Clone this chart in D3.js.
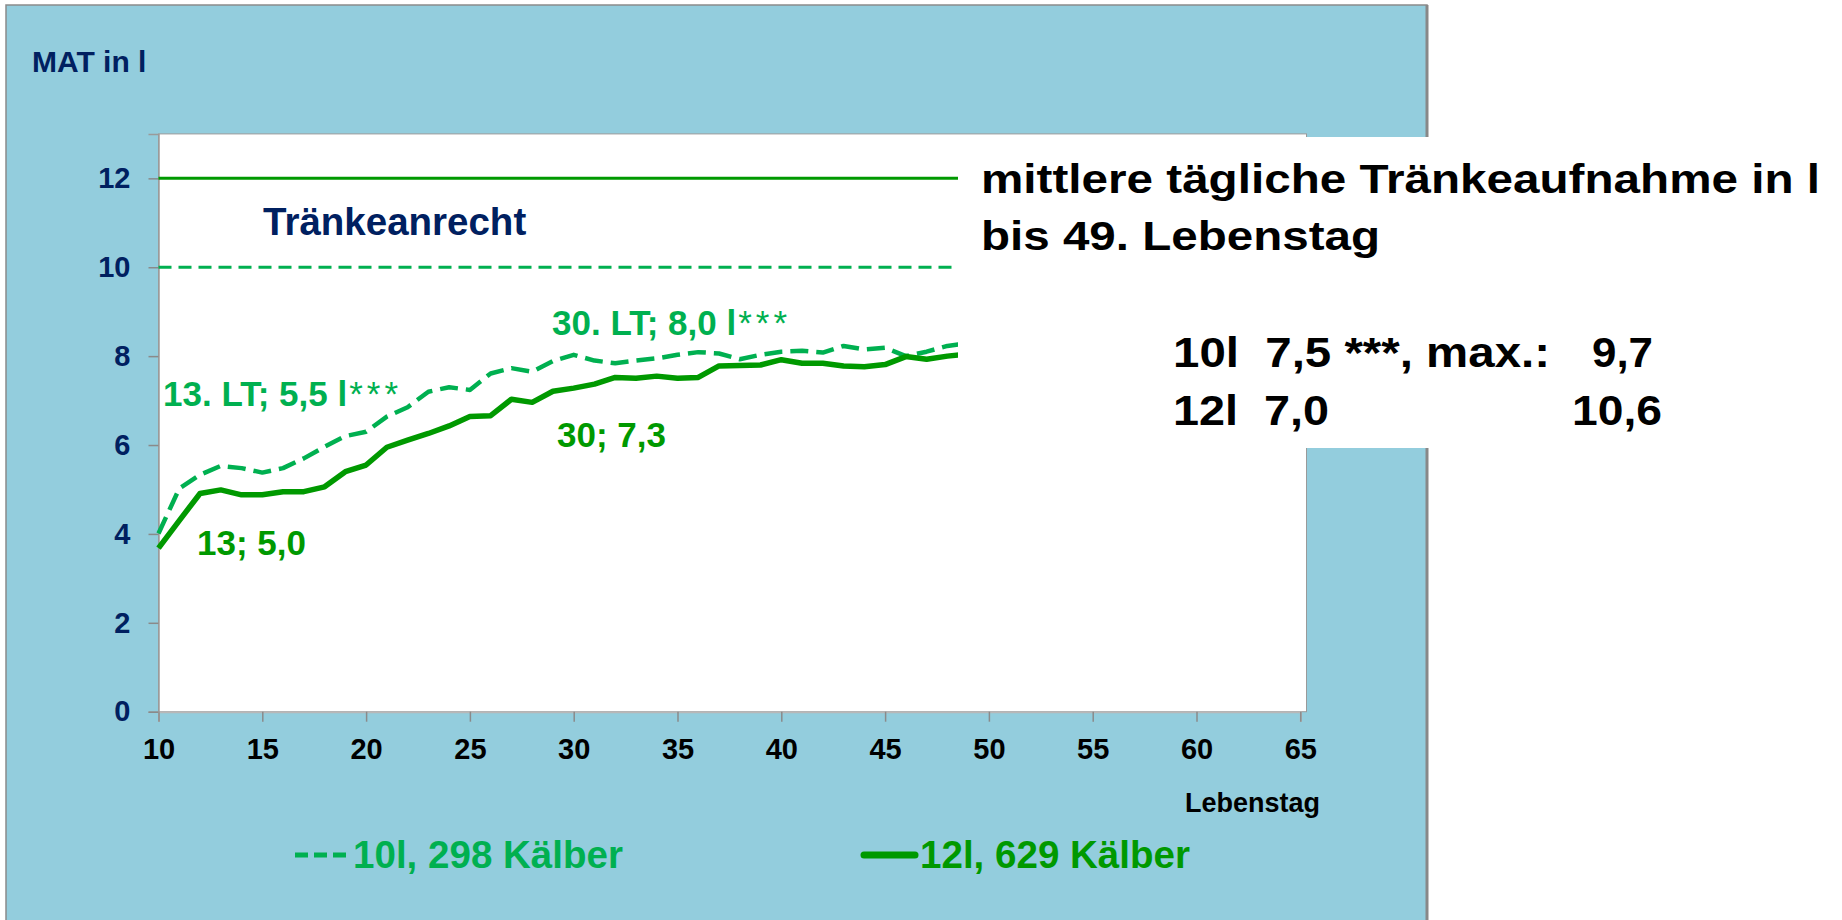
<!DOCTYPE html>
<html>
<head>
<meta charset="utf-8">
<script src="https://cdnjs.cloudflare.com/ajax/libs/d3/7.8.5/d3.min.js"></script>
<style>
	body { margin: 0; background: #ffffff; }
	svg { display: block; font-family: "Liberation Sans", Arial, sans-serif; }
	text { white-space: pre; }
</style>
</head>
<body>
<div id="chart"></div>
<script>
	var width = 1842, height = 920;

	// Lebenstag (x) and mittlere Tränkeaufnahme (y)
	var days = [10,11,12,13,14,15,16,17,18,19,20,21,22,23,24,25,26,27,28,29,
		30,31,32,33,34,35,36,37,38,39,40,41,42,43,44,45,46,47,48,49];
	var tenL = [4.01,5.02,5.33,5.53,5.48,5.38,5.48,5.70,5.96,6.20,6.30,6.64,6.85,7.20,7.30,7.24,7.61,7.73,7.65,7.89,
		8.03,7.90,7.84,7.90,7.95,8.03,8.09,8.06,7.93,8.03,8.10,8.12,8.08,8.23,8.15,8.19,8.00,8.10,8.23,8.29];
	var twelveL = [3.68,4.30,4.91,4.99,4.88,4.88,4.95,4.95,5.06,5.40,5.55,5.95,6.11,6.26,6.43,6.64,6.66,7.03,6.96,7.21,
		7.28,7.37,7.52,7.50,7.55,7.50,7.52,7.78,7.79,7.80,7.92,7.84,7.84,7.78,7.76,7.81,7.99,7.93,8.00,8.05];
	// Tränkeanrecht
	var allowance = [12, 10];
	var xTicks = [10,15,20,25,30,35,40,45,50,55,60,65];
	var yTicks = [0,2,4,6,8,10,12];

	var lightGreen = "#00b050", darkGreen = "#009900", navy = "#002060";

	var svg = d3.select("#chart").append("svg")
		.attr("width", width)
		.attr("height", height);

	var x = d3.scaleLinear().domain([10, 65]).range([158.5, 1300.3]);
	var y = d3.scaleLinear().domain([0, 13]).range([711.7, 133.9]);

	// blue panel
	svg.append("rect")
		.attr("x", 6).attr("y", 5)
		.attr("width", 1421).attr("height", 940)
		.attr("fill", "#93cddd")
		.attr("stroke", "#8a8a8a")
		.attr("stroke-width", 1.5);
	svg.append("line")
		.attr("x1", 1427).attr("x2", 1427)
		.attr("y1", 5).attr("y2", height)
		.attr("stroke", "#888").attr("stroke-width", 3);

	// plot area
	svg.append("rect")
		.attr("x", x(10)).attr("y", y(13))
		.attr("width", 1306.5 - x(10)).attr("height", y(0) - y(13))
		.attr("fill", "#ffffff")
		.attr("stroke", "#9a9a9a")
		.attr("stroke-width", 1);

	svg.append("text")
		.attr("x", 32).attr("y", 72)
		.attr("fill", navy)
		.attr("font-size", 30).attr("font-weight", "bold")
		.text("MAT in l");

	// axes
	var xAxis = svg.append("g")
		.attr("transform", "translate(0," + y(0) + ")")
		.call(d3.axisBottom(x).tickValues(xTicks).tickSize(10).tickPadding(17));
	xAxis.select(".domain").attr("stroke", "#b8b8b8").attr("stroke-width", 2);
	xAxis.selectAll(".tick line").attr("stroke", "#8a8a8a").attr("stroke-width", 1.5);
	xAxis.selectAll(".tick text")
		.attr("fill", "#000")
		.attr("font-size", 29).attr("font-weight", "bold")
		.attr("font-family", "Liberation Sans, Arial, sans-serif");

	var yAxis = svg.append("g")
		.attr("transform", "translate(" + x(10) + ",0)")
		.call(d3.axisLeft(y).tickValues(yTicks).tickSize(10).tickPadding(18));
	yAxis.select(".domain").attr("stroke", "#9a9a9a").attr("stroke-width", 1.5);
	yAxis.selectAll(".tick line").attr("stroke", "#8a8a8a").attr("stroke-width", 1.5);
	yAxis.selectAll(".tick text")
		.attr("fill", navy)
		.attr("font-size", 29).attr("font-weight", "bold")
		.attr("font-family", "Liberation Sans, Arial, sans-serif");

	// Tränkeanrecht lines
	svg.append("line")
		.attr("x1", x(10)).attr("x2", x(50))
		.attr("y1", y(allowance[0])).attr("y2", y(allowance[0]))
		.attr("stroke", darkGreen).attr("stroke-width", 3);
	svg.append("line")
		.attr("x1", x(10)).attr("x2", x(50))
		.attr("y1", y(allowance[1])).attr("y2", y(allowance[1]))
		.attr("stroke", lightGreen).attr("stroke-width", 3)
		.attr("stroke-dasharray", "13,7");

	svg.append("text")
		.attr("x", 263).attr("y", 235)
		.attr("fill", navy)
		.attr("font-size", 38.5).attr("font-weight", "bold")
		.text("Tränkeanrecht");

	// data lines
	var line = d3.line()
		.x(function(d){ return x(d[0]); })
		.y(function(d){ return y(d[1]); });

	svg.append("path")
		.datum(d3.zip(days, tenL))
		.attr("d", line)
		.attr("fill", "none")
		.attr("stroke", lightGreen)
		.attr("stroke-width", 4.5)
		.attr("stroke-dasharray", "18,8")
		.attr("stroke-linejoin", "round");

	svg.append("path")
		.datum(d3.zip(days, twelveL))
		.attr("d", line)
		.attr("fill", "none")
		.attr("stroke", darkGreen)
		.attr("stroke-width", 5.5)
		.attr("stroke-linejoin", "round");

	// annotations
	function note(tx, ty, color, main, stars) {
		var t = svg.append("text")
			.attr("x", tx).attr("y", ty)
			.attr("fill", color)
			.attr("font-size", 35).attr("font-weight", "bold");
		t.append("tspan").text(main);
		if (stars) t.append("tspan").attr("font-weight", "normal").attr("dx", 2).attr("letter-spacing", 4).text(stars);
	}
	note(163, 406, lightGreen, "13. LT; 5,5 l", "***");
	note(552, 335, lightGreen, "30. LT; 8,0 l", "***");
	note(197, 555, darkGreen, "13; 5,0", null);
	note(557, 447, darkGreen, "30; 7,3", null);

	// white text box
	svg.append("rect")
		.attr("x", 958).attr("y", 137)
		.attr("width", width - 958).attr("height", 311)
		.attr("fill", "#ffffff");

	function boxText(tx, ty, size, str, len) {
		svg.append("text")
			.attr("x", tx).attr("y", ty)
			.attr("fill", "#000")
			.attr("font-size", size).attr("font-weight", "bold")
			.attr("textLength", len)
			.attr("lengthAdjust", "spacingAndGlyphs")
			.text(str);
	}
	boxText(981, 193, 40, "mittlere tägliche Tränkeaufnahme in l", 839);
	boxText(981, 250, 40, "bis 49. Lebenstag", 399);
	boxText(1173, 367, 42, "10l  7,5 ***, max.:", 377);
	boxText(1592, 367, 42, "9,7", 61);
	boxText(1173, 425, 42, "12l  7,0", 156);
	boxText(1572, 425, 42, "10,6", 90);

	// x axis title
	svg.append("text")
		.attr("x", 1320).attr("y", 812)
		.attr("text-anchor", "end")
		.attr("fill", "#000")
		.attr("font-size", 27).attr("font-weight", "bold")
		.text("Lebenstag");

	// legend
	svg.append("line")
		.attr("x1", 295).attr("x2", 351)
		.attr("y1", 855).attr("y2", 855)
		.attr("stroke", lightGreen).attr("stroke-width", 5)
		.attr("stroke-dasharray", "13,6");
	svg.append("text")
		.attr("x", 353).attr("y", 868)
		.attr("fill", lightGreen)
		.attr("font-size", 39).attr("font-weight", "bold")
		.attr("textLength", 270).attr("lengthAdjust", "spacingAndGlyphs")
		.text("10l, 298 Kälber");

	svg.append("line")
		.attr("x1", 864).attr("x2", 915)
		.attr("y1", 855).attr("y2", 855)
		.attr("stroke", darkGreen).attr("stroke-width", 7)
		.attr("stroke-linecap", "round");
	svg.append("text")
		.attr("x", 920).attr("y", 868)
		.attr("fill", darkGreen)
		.attr("font-size", 39).attr("font-weight", "bold")
		.attr("textLength", 270).attr("lengthAdjust", "spacingAndGlyphs")
		.text("12l, 629 Kälber");
</script>
</body>
</html>
